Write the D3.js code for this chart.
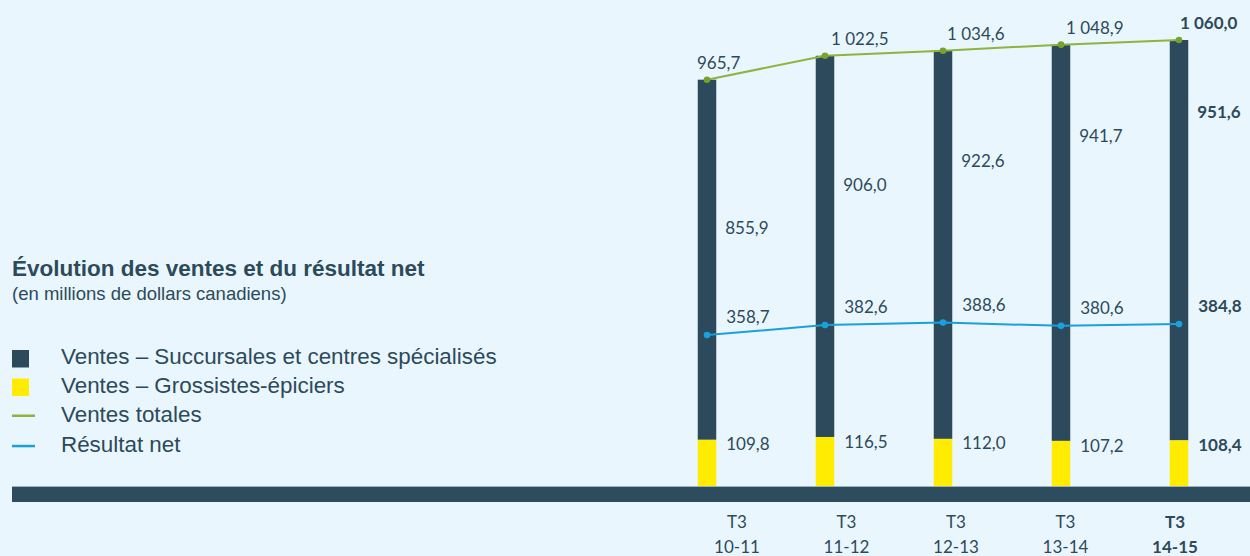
<!DOCTYPE html>
<html><head><meta charset="utf-8">
<script src="https://cdn.jsdelivr.net/npm/d3@7"></script>
<style>
html,body{margin:0;padding:0;background:#EAF6FD;}
svg{display:block;}
</style></head>
<body>
<svg id="c" width="1250" height="556"></svg>
<script>
const periods = ["10-11","11-12","12-13","13-14","14-15"];
const quarter = "T3";
const grossistes = [109.8,116.5,112.0,107.2,108.4];
const succursales = [855.9,906.0,922.6,941.7,951.6];
const totales = [965.7,1022.5,1034.6,1048.9,1060.0];
const resultat = [358.7,382.6,388.6,380.6,384.8];
const legendItems = ["Ventes – Succursales et centres spécialisés","Ventes – Grossistes-épiciers","Ventes totales","Résultat net"];
const title = "Évolution des ventes et du résultat net";
const subtitle = "(en millions de dollars canadiens)";

const C = {dark:"#2C4A5B", yellow:"#FFEC00", green:"#8DB43E", greenDot:"#77A32A", blue:"#1AA0DC", text:"#2C4A5A", band:"#2D4D5E"};
const fmt = v => { const s = d3.format(".1f")(v).replace(".", ","); const [a,b]=s.split(","); return (a.length>3? a.slice(0,a.length-3)+" "+a.slice(-3) : a)+","+b; };
const numFont = "Lato, 'Open Sans', sans-serif";
const legFont = "'Liberation Sans', Arial, Helvetica, sans-serif";

const svg = d3.select("#c");
const y = d3.scaleLinear().domain([0,1060]).range([486,40]);
const x = d3.scalePoint().domain(periods).range([707,1179]);
const xl = d3.scalePoint().domain(periods).range([737,1175]);
const bw = 18.5;
const last = periods.length-1;
const wt = i => i===last ? "bold" : "normal";

// bars
const g = svg.append("g");
periods.forEach((p,i)=>{
  g.append("rect").attr("x",x(p)-bw/2).attr("width",bw)
    .attr("y",y(grossistes[i]+succursales[i])).attr("height",y(grossistes[i])-y(grossistes[i]+succursales[i]))
    .attr("fill",C.dark);
  g.append("rect").attr("x",x(p)-bw/2).attr("width",bw)
    .attr("y",y(grossistes[i])).attr("height",y(0)-y(grossistes[i]))
    .attr("fill",C.yellow);
});

// base band
svg.append("rect").attr("x",12).attr("y",486).attr("width",1238).attr("height",16).attr("fill",C.band);
svg.append("line").attr("x1",12).attr("x2",1250).attr("y1",486.5).attr("y2",486.5).attr("stroke","#9DB3BE").attr("stroke-width",1);

// lines
const lineT = d3.line().x((d,i)=>x(periods[i])).y(d=>y(d));
svg.append("path").datum(totales).attr("d",lineT).attr("fill","none").attr("stroke",C.green).attr("stroke-width",2);
svg.append("path").datum(resultat).attr("d",lineT).attr("fill","none").attr("stroke",C.blue).attr("stroke-width",2);
svg.selectAll(".dt").data(totales).join("circle").attr("cx",(d,i)=>x(periods[i])).attr("cy",d=>y(d)).attr("r",3.3).attr("fill",C.greenDot);
svg.selectAll(".dr").data(resultat).join("circle").attr("cx",(d,i)=>x(periods[i])).attr("cy",d=>y(d)).attr("r",3.3).attr("fill",C.blue);

// labels
const lab = (xx,yy,t,i,anchor)=>svg.append("text").attr("x",xx).attr("y",yy).attr("dy","0.36em")
  .attr("text-anchor",anchor||"start").attr("font-family",numFont).attr("font-size",17).attr("font-weight",wt(i))
  .attr("fill",C.text).text(t);
const totDx = [-10,6,4,5,1];
periods.forEach((p,i)=>{
  lab(x(p)+totDx[i], y(totales[i])-17, fmt(totales[i]), i);
  const top = y(grossistes[i]+succursales[i]);
  lab(x(p)+bw/2+9, top+148-19*i, fmt(succursales[i]), i);
  lab(x(p)+bw/2+10, y(resultat[i])-18, fmt(resultat[i]), i);
  lab(x(p)+bw/2+10, y(grossistes[i])+4.5, fmt(grossistes[i]), i);
  // x labels
  svg.append("text").attr("x",xl(p)).attr("y",528).attr("text-anchor","middle").attr("font-family",numFont)
    .attr("font-size",17).attr("font-weight",wt(i)).attr("fill",C.text).text(quarter);
  svg.append("text").attr("x",xl(p)).attr("y",553).attr("text-anchor","middle").attr("font-family",numFont)
    .attr("font-size",17).attr("font-weight",wt(i)).attr("fill",C.text).text(p);
});

// title & legend
svg.append("text").attr("x",12).attr("y",276).attr("font-family",legFont).attr("font-size",22.5).attr("font-weight","bold").attr("fill",C.text).text(title);
svg.append("text").attr("x",12).attr("y",300).attr("font-family",legFont).attr("font-size",18.5).attr("fill",C.text).text(subtitle);
const ly = [363.5,392.8,422,451.5];
legendItems.forEach((t,i)=>{
  svg.append("text").attr("x",61).attr("y",ly[i]).attr("font-family",legFont).attr("font-size",22.4).attr("fill",C.text).text(t);
});
svg.append("rect").attr("x",12).attr("y",350).attr("width",17).attr("height",17.5).attr("fill",C.dark);
svg.append("rect").attr("x",12).attr("y",378.5).attr("width",17).attr("height",17.5).attr("fill",C.yellow);
svg.append("rect").attr("x",12).attr("y",414.5).attr("width",23).attr("height",2.5).attr("fill",C.green);
svg.append("rect").attr("x",12).attr("y",444.8).attr("width",23).attr("height",2.5).attr("fill",C.blue);
</script>
</body></html>
